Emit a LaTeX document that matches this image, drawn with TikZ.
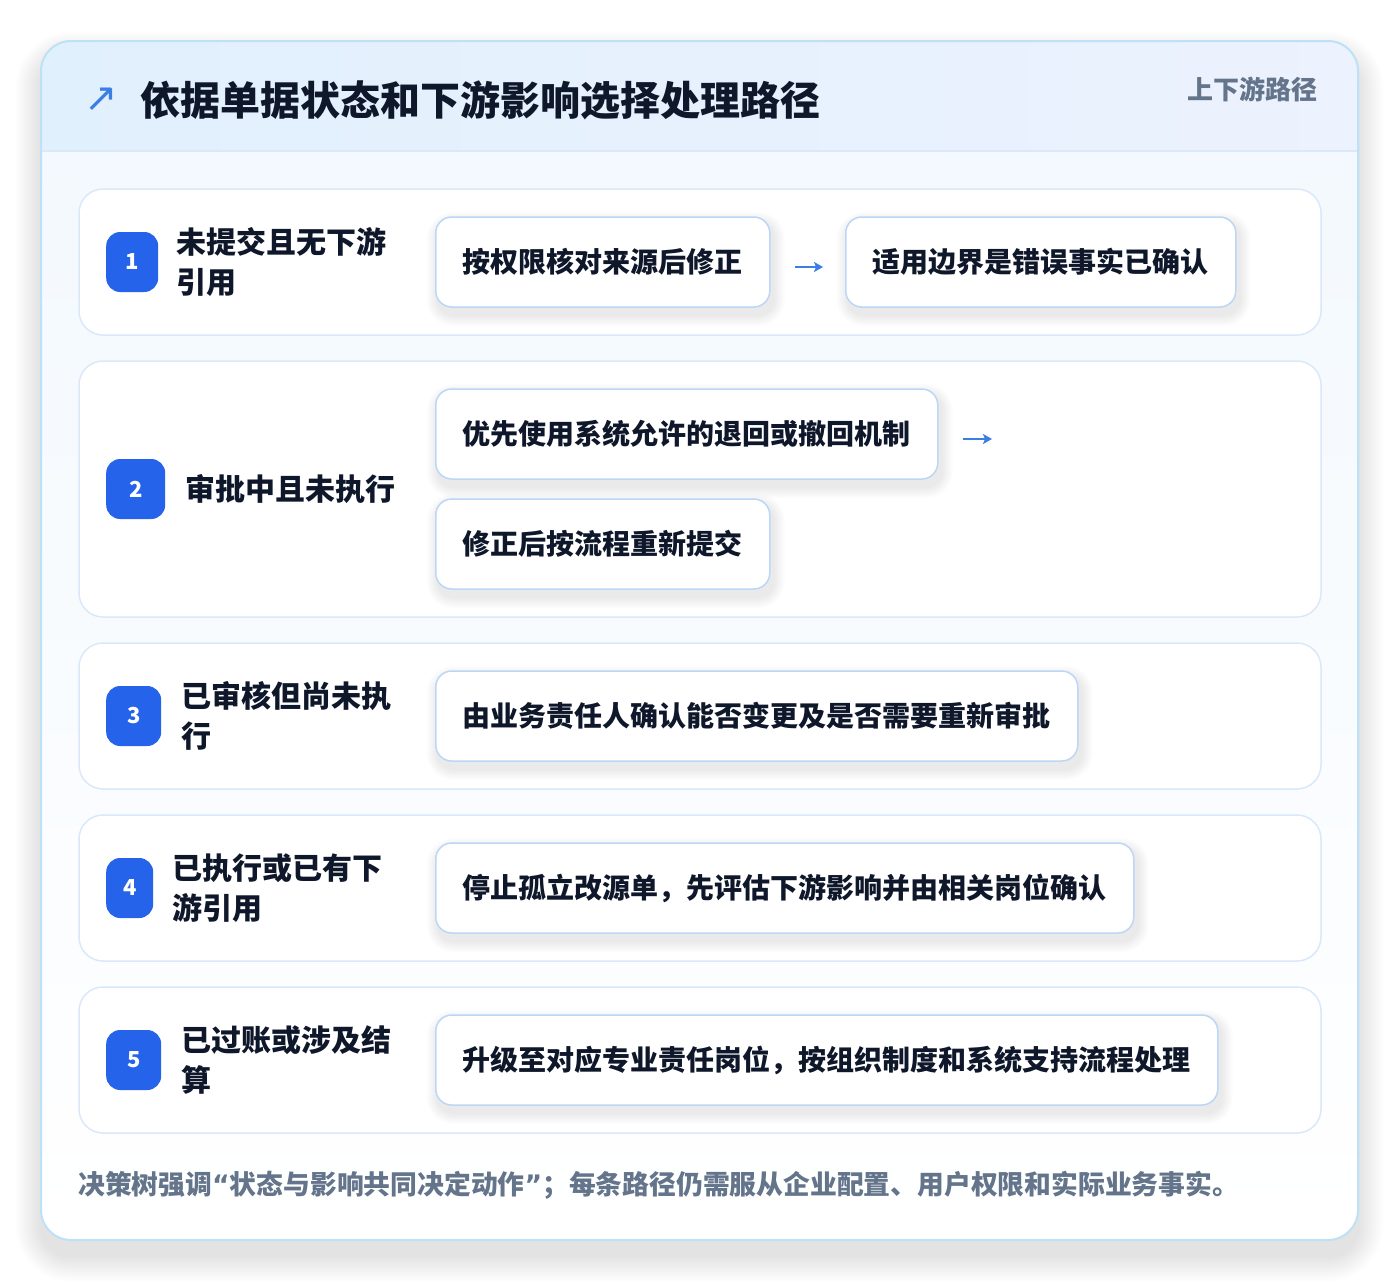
\documentclass[tikz,border=0pt]{standalone}
\usepackage{fontspec}
\setmainfont{Noto Sans CJK SC}
\newfontfamily\symfont{DejaVu Sans}
\usepackage{xcolor}
\usetikzlibrary{positioning, arrows.meta, shapes}

\definecolor{ink}{HTML}{0F172A}
\definecolor{muted}{HTML}{64748B}
\definecolor{badge}{HTML}{2563EB}
\definecolor{flow}{HTML}{3B7FE6}
\definecolor{cardline}{HTML}{BDE1F7}
\definecolor{rowline}{HTML}{DAE8FA}
\definecolor{actline}{HTML}{BCD6F6}
\definecolor{headleft}{HTML}{E1F0FD}
\definecolor{headright}{HTML}{ECF2FE}
\definecolor{bodytop}{HTML}{F2F8FE}

\pgfdeclarelayer{bg}
\pgfdeclarelayer{shad}
\pgfsetlayers{bg,shad,main}

\tikzset{
  row/.style={draw=rowline, line width=1.5pt, rounded corners=24pt, fill=white,
    minimum width=1242pt, inner sep=0pt},
  num/.style={fill=badge, rounded corners=14pt, text=white, minimum height=60pt,
    inner sep=0pt, font=\fontsize{22}{22}\selectfont\bfseries},
  lab/.style={align=left, text=ink, inner sep=0pt, font=\fontsize{30}{40}\selectfont\bfseries},
  act/.style={draw=actline, line width=1.5pt, rounded corners=16pt, fill=white, text=ink,
    minimum height=90pt, inner xsep=27pt, inner ysep=0pt,
    font=\fontsize{28}{28}\selectfont\bfseries},
  nxt/.style={draw=flow, line width=2.4pt, -{Stealth[length=9pt, width=10pt, inset=2pt]}},
  haze/.style={fill=black, opacity=#1},
}

\begin{document}
\begin{tikzpicture}[x=1pt, y=-1pt]
  \useasboundingbox (0,0) rectangle (1400,1282);
  % card with header band
  \begin{pgfonlayer}{bg}
    \fill[white] (0,0) rectangle (1400,1282);
    \foreach \k in {1,...,14}
      \fill[haze=0.007, rounded corners={30+1.8*\k}] ({41-1.8*\k},{57-1.8*\k}) rectangle ({1358+1.8*\k},{1256+1.8*\k});
    \path[top color=bodytop, bottom color=white, rounded corners=30pt] (41,41) rectangle (1358,1240);
    \begin{scope}
      \clip[rounded corners=30pt] (41,41) rectangle (1358,1240);
      \shade[left color=headleft, right color=headright] (41,41) rectangle (1358,151);
    \end{scope}
    \draw[rowline, line width=1.5pt] (41,151) -- (1358,151);
    \draw[cardline, line width=2pt, rounded corners=30pt] (41,41) rectangle (1358,1240);
  \end{pgfonlayer}

  \node[text=flow, inner sep=0pt, font=\symfont\fontsize{40}{40}\selectfont] (icon) at (101,100) {↗};
  \node[anchor=west, text=ink, inner sep=0pt, font=\fontsize{40}{40}\selectfont\bfseries]
    (title) at (140,100) {依据单据状态和下游影响选择处理路径};
  \node[anchor=east, text=muted, inner sep=0pt, font=\fontsize{26}{26}\selectfont\bfseries]
    (tag) at (1318,89) {上下游路径};

  % rows, badges
  \foreach \i/\yt/\yb/\w in {1/189/335/52, 2/361/617/59, 3/643/789/55, 4/815/961/47, 5/987/1133/55}
  {
    \begin{pgfonlayer}{bg}
      \node[row, minimum height={\yb-\yt}] (row\i) at (700,{(\yt+\yb)/2}) {};
    \end{pgfonlayer}
    \node[num, minimum width=\w pt, anchor=west] (num\i) at (106,{(\yt+\yb)/2}) {\i};
  }

  \node[lab, right=18pt of num1] (lab1) {未提交且无下游\\引用};
  \node[lab, right=20pt of num2] (lab2) {审批中且未执行};
  \node[lab, right=20pt of num3] (lab3) {已审核但尚未执\\行};
  \node[lab, right=19pt of num4] (lab4) {已执行或已有下\\游引用};
  \node[lab, right=20pt of num5] (lab5) {已过账或涉及结\\算};

  % actions
  \node[act, anchor=west] (act1a) at (435,262) {按权限核对来源后修正};
  \node[act, anchor=west] (act1b) at (845,262) {适用边界是错误事实已确认};
  \node[act, anchor=west] (act2a) at (435,434) {优先使用系统允许的退回或撤回机制};
  \node[act, anchor=west] (act2b) at (435,544) {修正后按流程重新提交};
  \node[act, anchor=west] (act3) at (435,716) {由业务责任人确认能否变更及是否需要重新审批};
  \node[act, anchor=west] (act4) at (435,888) {停止孤立改源单，先评估下游影响并由相关岗位确认};
  \node[act, anchor=west] (act5) at (435,1060) {升级至对应专业责任岗位，按组织制度和系统支持流程处理};

  % soft shadows under the action boxes
  \begin{pgfonlayer}{shad}
    \foreach \n in {act1a, act1b, act2a, act2b, act3, act4, act5}
      \foreach \k in {1,...,7}
        \fill[haze=0.012, rounded corners={16+1.5*\k}]
          ([xshift={(3-1.6*\k)*1pt}, yshift={(-7-1.6*\k)*1pt}]\n.south west) rectangle
          ([xshift={(3+1.6*\k)*1pt}, yshift={(-7+1.6*\k)*1pt}]\n.north east);
  \end{pgfonlayer}

  \coordinate (end2) at (992,439);
  \draw[nxt, shorten <=24pt, shorten >=22pt] ([yshift=-5pt]act1a.east) -- ([yshift=-5pt]act1b.west);
  \draw[nxt, shorten <=24pt] ([yshift=-5pt]act2a.east) -- (end2);

  \node[anchor=west, text=muted, inner sep=0pt, font=\fontsize{26.8}{26.8}\selectfont\bfseries]
    (note) at (78,1185) {决策树强调{\symfont “}状态与影响共同决定动作{\symfont ”}；每条路径仍需服从企业配置、用户权限和实际业务事实。};
\end{tikzpicture}
\end{document}
